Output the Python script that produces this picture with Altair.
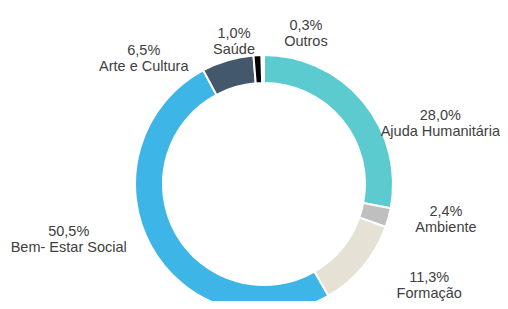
import altair as alt
import pandas as pd

categories = ["Ajuda Humanitária", "Ambiente", "Formação", "Bem- Estar Social",
              "Arte e Cultura", "Saúde", "Outros"]
values = [28.0, 2.4, 11.3, 50.5, 6.5, 1.0, 0.3]
pct_labels = ["28,0%", "2,4%", "11,3%", "50,5%", "6,5%", "1,0%", "0,3%"]
colors = ["#5BCBCF", "#BFBFBF", "#E6E1D5", "#3DB5E6", "#44586B", "#000000", "#FFFFFF"]

# label placement (angle clockwise from top, in degrees; distance from centre, px)
label_angle = [68.9, 98.6, 119.6, 256.3, 317.8, 348.7, 14.9]
label_dist = [189, 184, 190, 201, 179, 153, 163]

df = pd.DataFrame({
    "cat": categories,
    "val": values,
    "idx": list(range(len(categories))),
    "txt": [p + "\n" + c for p, c in zip(pct_labels, categories)],
    "ang": label_angle,
    "dist": label_dist,
})

cx, cy = 256, 176

arcs = alt.Chart(df).mark_arc(
    radius=129, radius2=101, stroke="white", strokeWidth=2
).encode(
    theta=alt.Theta("val:Q", stack=True, scale=alt.Scale(domain=[0, 100])),
    order=alt.Order("idx:Q", sort="ascending"),
    color=alt.Color("cat:N", scale=alt.Scale(domain=categories, range=colors), legend=None),
    x=alt.value(cx),
    y=alt.value(cy),
)

labels = alt.Chart(df).mark_text(
    font="Liberation Sans", fontSize=14.5, lineHeight=16, lineBreak="\n",
    color="#404040", align="center", baseline="middle"
).encode(
    theta=alt.Theta("ang:Q", stack=False, scale=alt.Scale(domain=[0, 360], range=[0, 6.283185307])),
    radius=alt.Radius("dist:Q", scale=alt.Scale(type="linear", domain=[0, 300], range=[0, 300], zero=True)),
    text="txt:N",
    x=alt.value(cx),
    y=alt.value(cy),
)

chart = alt.layer(arcs, labels).resolve_scale(
    theta="independent", radius="independent"
).properties(
    width=492, height=293, padding=0, autosize=alt.AutoSizeParams(type="none")
).configure_view(stroke=None)

chart.save("out.html", embed_options={"renderer": "svg", "actions": False})
